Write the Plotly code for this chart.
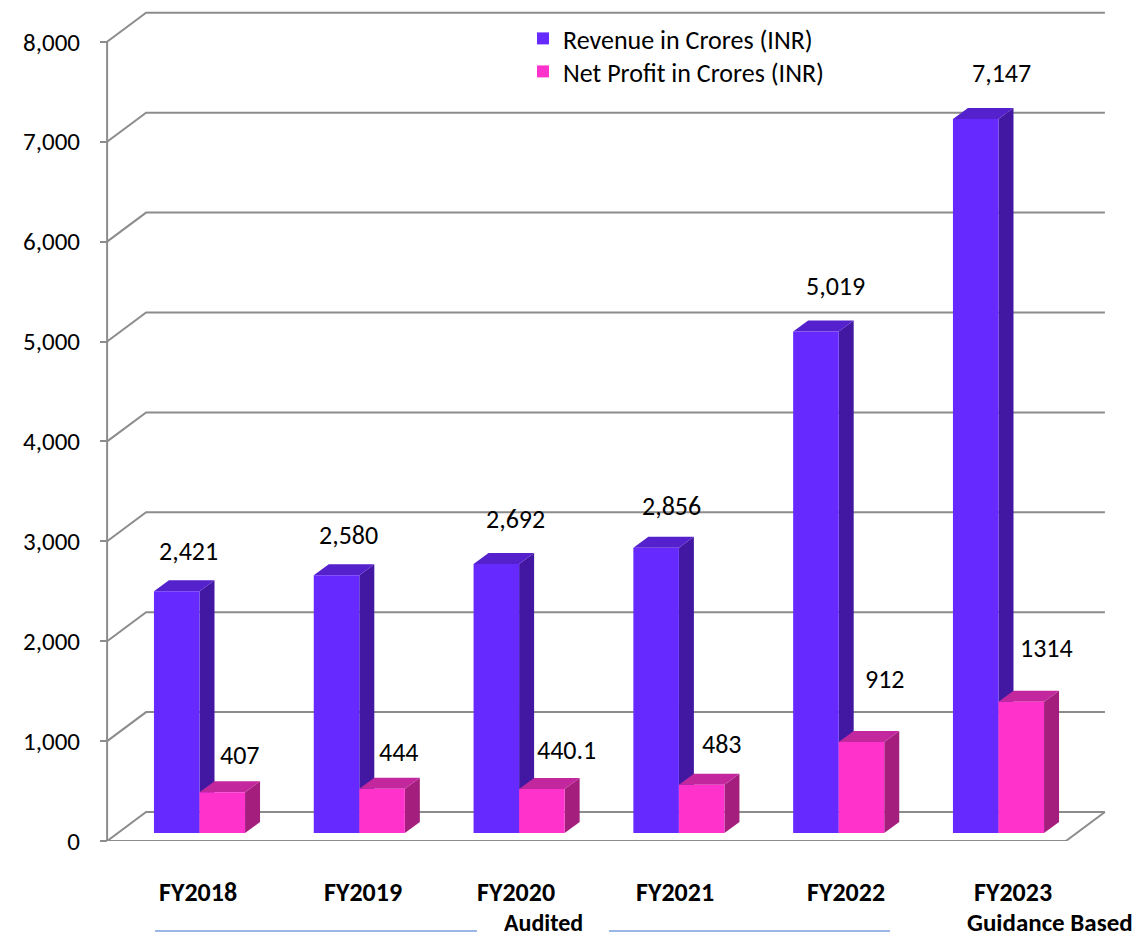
import plotly.graph_objects as go

# ---------------- data ----------------
categories = ["FY2018", "FY2019", "FY2020", "FY2021", "FY2022", "FY2023"]
revenue = [2421, 2580, 2692, 2856, 5019, 7147]
profit = [407, 444, 440.1, 483, 912, 1314]
revenue_text = ["2,421", "2,580", "2,692", "2,856", "5,019", "7,147"]
profit_text = ["407", "444", "440.1", "483", "912", "1314"]
y_ticks = [0, 1000, 2000, 3000, 4000, 5000, 6000, 7000, 8000]
series_names = ["Revenue in Crores (INR)", "Net Profit in Crores (INR)"]

# ---------------- style / geometry ----------------
W, H = 1143, 941
ML, MR, MT, MB = 90, 33, 10, 100
PLOT_W = W - ML - MR
PLOT_H = H - MT - MB
PX_CAT = 159.8          # pixels per category
PX_VAL = 0.0999         # pixels per value unit
GROUP0_PX = 199.5       # pixel x of first group centre (bar plane)
BASE_PX = 833           # pixel y of bar bases (bar plane)
FLOOR_PX = H - MB       # pixel y of front floor edge
AXIS_PX = 107           # pixel x of front value axis

BAR_W = 0.285
BD_X, BD_Y = 15 / PX_CAT, 11 / PX_VAL          # bar depth
FR_X, FR_Y = -12.5 / PX_CAT, -8 / PX_VAL       # front plane offset
BK_X, BK_Y = 26.5 / PX_CAT, 21 / PX_VAL        # back plane offset

# label placement (pixel shifts, styling only)
REV_LBL_DX = [12, 12, 19, 15, 20, 26]
REV_LBL_DY = [40, 40, 45, 42, 46, 46]
PRO_LBL_DX = [18, 17, 25, 20, 24, 25]
PRO_LBL_DY = [37, 37, 39, 41, 63, 54]
CAT_LBL_DX = [-2, 4, -3, -4, 7, 14]

REV = dict(front="#6629FF", top="#5421CC", side="#4218A3")
PRO = dict(front="#FF33CC", top="#C2279D", side="#A31E7D")
GRID = "#8C8C8C"
FONT = "Carlito, Calibri, Lato, sans-serif"

x_range = [(ML - GROUP0_PX) / PX_CAT, (W - MR - GROUP0_PX) / PX_CAT]
y_range = [(BASE_PX - FLOOR_PX) / PX_VAL, (BASE_PX - MT) / PX_VAL]


def px_to_paper_x(px):
    return (px - ML) / PLOT_W


def py_to_paper_y(py):
    return (H - MB - py) / PLOT_H


fig = go.Figure()

xs = list(range(len(categories)))
fig.add_trace(go.Bar(x=xs, y=revenue, width=BAR_W, offset=-BAR_W, name=series_names[0],
                     legend="legend",
                     marker=dict(color=REV["front"], line=dict(width=0)), hoverinfo="y"))
fig.add_trace(go.Bar(x=xs, y=profit, width=BAR_W, offset=0, name=series_names[1],
                     legend="legend2",
                     marker=dict(color=PRO["front"], line=dict(width=0)), hoverinfo="y"))

shapes = []


def path(pts, close=True):
    s = "M " + " L ".join(f"{x:.5f},{y:.3f}" for x, y in pts)
    return s + (" Z" if close else "")


n = len(categories)
# back wall gridlines with left diagonal
for v in y_ticks:
    fx, fy = -0.5 + FR_X, v + FR_Y
    bx, by = -0.5 + BK_X, v + BK_Y
    ex = n - 0.5 + BK_X
    shapes.append(dict(type="path", xref="x", yref="y", layer="below",
                       path=path([(fx, fy), (bx, by), (ex, by)], close=False),
                       line=dict(color=GRID, width=2)))
# floor front edge and right diagonal
shapes.append(dict(type="path", xref="x", yref="y", layer="below",
                   path=path([(-0.5 + FR_X, FR_Y), (n - 0.5 + FR_X, FR_Y), (n - 0.5 + BK_X, BK_Y)], close=False),
                   line=dict(color=GRID, width=2)))
# front value axis line
shapes.append(dict(type="line", xref="x", yref="y", layer="below",
                   x0=-0.5 + FR_X, x1=-0.5 + FR_X, y0=FR_Y, y1=y_ticks[-1] + FR_Y,
                   line=dict(color=GRID, width=2)))


# 3D faces of the bars
def faces(vals, x_left, col):
    out = []
    for i, v in enumerate(vals):
        x0 = i + x_left
        x1 = x0 + BAR_W
        side = [(x1, 0), (x1 + BD_X, BD_Y), (x1 + BD_X, v + BD_Y), (x1, v)]
        top = [(x0, v), (x0 + BD_X, v + BD_Y), (x1 + BD_X, v + BD_Y), (x1, v)]
        out.append(dict(type="path", xref="x", yref="y", layer="below", path=path(side),
                        fillcolor=col["side"], line=dict(width=0)))
        out.append(dict(type="path", xref="x", yref="y", layer="below", path=path(top),
                        fillcolor=col["top"], line=dict(width=0)))
    return out


shapes += faces(revenue, -BAR_W, REV)
shapes += faces(profit, 0, PRO)

LABEL_FONT = dict(size=26, color="#000000", family=FONT)
BOLD_FONT = dict(size=26, color="#000000", family=FONT)

annotations = []
for i, (v, t) in enumerate(zip(revenue, revenue_text)):
    annotations.append(dict(x=i - BAR_W / 2, y=v, xref="x", yref="y", text=t, showarrow=False,
                            xanchor="center", yanchor="middle",
                            xshift=REV_LBL_DX[i], yshift=REV_LBL_DY[i], font=LABEL_FONT))
for i, (v, t) in enumerate(zip(profit, profit_text)):
    annotations.append(dict(x=i + BAR_W / 2, y=v, xref="x", yref="y", text=t, showarrow=False,
                            xanchor="center", yanchor="middle",
                            xshift=PRO_LBL_DX[i], yshift=PRO_LBL_DY[i], font=LABEL_FONT))

for i, c in enumerate(categories):
    annotations.append(dict(x=i, y=py_to_paper_y(892), xref="x", yref="paper", text=f"<b>{c}</b>",
                            xanchor="center", yanchor="middle", xshift=CAT_LBL_DX[i],
                            showarrow=False, font=BOLD_FONT))
annotations.append(dict(x=px_to_paper_x(543), y=py_to_paper_y(923), xref="paper", yref="paper",
                        text="<b>Audited</b>", showarrow=False, xanchor="center", yanchor="middle",
                        font=dict(size=24, color="#000000", family=FONT)))
annotations.append(dict(x=px_to_paper_x(1050), y=py_to_paper_y(922), xref="paper", yref="paper",
                        text="<b>Guidance Based</b>", showarrow=False, xanchor="center", yanchor="middle",
                        font=dict(size=25, color="#000000", family=FONT)))
for a, b in [(155, 477), (609, 890)]:
    shapes.append(dict(type="line", xref="paper", yref="paper",
                       x0=px_to_paper_x(a), x1=px_to_paper_x(b),
                       y0=py_to_paper_y(931), y1=py_to_paper_y(931),
                       line=dict(color="#7A9FDC", width=1.5)))

LEGEND_FONT = dict(size=26, color="#000000", family=FONT)
legend_common = dict(xanchor="left", yanchor="top", font=LEGEND_FONT,
                     bgcolor="rgba(0,0,0,0)", itemwidth=30)

fig.update_layout(
    width=W, height=H,
    margin=dict(l=ML, r=MR, t=MT, b=MB, pad=0),
    plot_bgcolor="white", paper_bgcolor="white",
    barmode="overlay",
    showlegend=True,
    legend=dict(x=px_to_paper_x(523), y=py_to_paper_y(15), **legend_common),
    legend2=dict(x=px_to_paper_x(523), y=py_to_paper_y(48), **legend_common),
    xaxis=dict(range=x_range, showgrid=False, zeroline=False, showline=False,
               showticklabels=False, ticks="", fixedrange=True),
    yaxis=dict(range=y_range, showgrid=False, zeroline=False, showline=False,
               anchor="free", position=px_to_paper_x(AXIS_PX),
               tickvals=[v + FR_Y for v in y_ticks], ticktext=[f"{v:,}" for v in y_ticks],
               ticks="outside", ticklen=7, tickcolor=GRID, tickwidth=2,
               ticklabelstandoff=15,
               tickfont=dict(size=25, color="#000000", family=FONT), fixedrange=True),
    annotations=annotations,
    shapes=shapes,
)

fig.write_html("out.html")
